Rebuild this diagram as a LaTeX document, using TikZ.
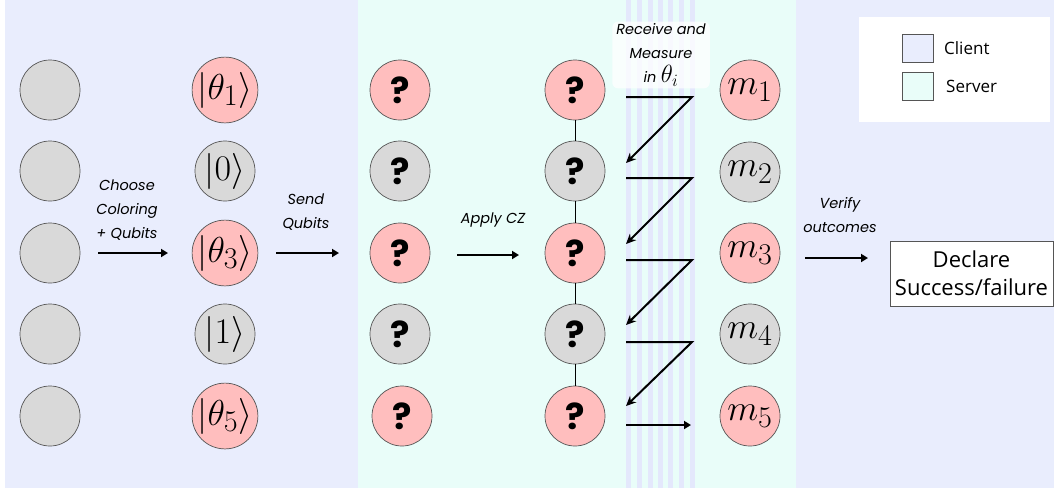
\documentclass[tikz,border=0pt]{standalone}
\usepackage{fontspec}
\usepackage{amsmath}
\usepackage{graphicx}
\setsansfont{Poppins}
\newfontfamily\boxfont{Open Sans}
\usetikzlibrary{arrows.meta}
\definecolor{clientbg}{RGB}{233,237,253}
\definecolor{serverbg}{RGB}{233,253,249}
\definecolor{stripe}{RGB}{228,232,252}
\definecolor{qpink}{RGB}{255,190,190}
\definecolor{qgray}{RGB}{217,217,217}
\definecolor{qline}{RGB}{85,85,85}
% large math inside the qubit circles
\newcommand\qmath[1]{\scalebox{1.45}{\fontsize{24.88}{25}\selectfont$#1$}}
% hidden qubit mark
\newcommand\qmark{\scalebox{1.5}{\sffamily\bfseries\fontsize{24}{24}\selectfont ?}}
\begin{document}
\begin{tikzpicture}[x=1pt,y=-1pt,
  qubit/.style={circle,draw=qline,line width=0.7pt,minimum size=60pt,inner sep=0pt},
  pinkq/.style={qubit,fill=qpink},
  grayq/.style={qubit,fill=qgray},
  lbl/.style={font=\sffamily\itshape\fontsize{14.5}{24}\selectfont,align=center},
  flow/.style={-{Triangle[length=7pt,width=8pt]},line width=2pt},
  zig/.style={-{Stealth[length=10pt,width=9pt]},line width=2pt}]
% page and the client / server regions
\fill[white] (0,0) rectangle (1054,491);
\useasboundingbox (0,0) rectangle (1054,491);
\fill[clientbg] (5,0) rectangle (1054,488);
\fill[serverbg] (358,0) rectangle (796,488);
\foreach \sx in {626,637,648,658,668,679,690}
  \fill[stripe] (\sx,0) rectangle ++(5,488);
% column 1: blank qubits
\foreach \r/\y in {1/90,2/171,3/253,4/334,5/416}
  \node[grayq] (a\r) at (50,\y) {};
% column 2: prepared states
\node[pinkq] (b1) at (225,90) {\qmath{|\theta_1\rangle}};
\node[grayq] (b2) at (225,171) {\qmath{|0\rangle}};
\node[pinkq] (b3) at (225,253) {\qmath{|\theta_3\rangle}};
\node[grayq] (b4) at (225,334) {\qmath{|1\rangle}};
\node[pinkq] (b5) at (225,416) {\qmath{|\theta_5\rangle}};
% column 3: qubits received by the server
\node[pinkq] (c1) at (400,90) {\qmark};
\node[grayq] (c2) at (400,171) {\qmark};
\node[pinkq] (c3) at (400,253) {\qmark};
\node[grayq] (c4) at (400,334) {\qmark};
\node[pinkq] (c5) at (402,416) {\qmark};
% column 4: entangled chain
\node[pinkq] (d1) at (575,90) {\qmark};
\node[grayq] (d2) at (575,171) {\qmark};
\node[pinkq] (d3) at (575,253) {\qmark};
\node[grayq] (d4) at (575,334) {\qmark};
\node[pinkq] (d5) at (575,416) {\qmark};
\foreach \i/\j in {1/2,2/3,3/4,4/5}
  \draw[line width=0.7pt] (d\i) -- (d\j);
% column 5: outcomes
\node[pinkq] (e1) at (750,90) {\qmath{m_1}};
\node[grayq] (e2) at (750,172) {\qmath{m_2}};
\node[pinkq] (e3) at (750,253) {\qmath{m_3}};
\node[grayq] (e4) at (750,334) {\qmath{m_4}};
\node[pinkq] (e5) at (750,416) {\qmath{m_5}};
% step arrows and their labels
\coordinate (s1) at (98,253);  \coordinate (t1) at (168,253);
\coordinate (s2) at (276,253); \coordinate (t2) at (339,253);
\coordinate (s3) at (457,255); \coordinate (t3) at (519,255);
\coordinate (s4) at (805,258); \coordinate (t4) at (868,258);
\draw[flow] (s1) -- (t1);
\draw[flow] (s2) -- (t2);
\draw[flow] (s3) -- (t3);
\draw[flow] (s4) -- (t4);
\node[lbl] at (127,210) {Choose\\Coloring\\+ Qubits};
\node[lbl] at (306,212) {Send\\Qubits};
\node[lbl] at (493,220) {Apply CZ};
\node[lbl] at (840,215) {Verify\\outcomes};
% measurement order
\node[lbl,fill=white,fill opacity=0.75,text opacity=1,rounded corners=6pt,
  inner xsep=4pt,inner ysep=2pt] (rm) at (661,55)
  {Receive and\\Measure\\in {\fontsize{24}{22}\selectfont$\theta_i$}};
\foreach \i/\j/\ya/\yb in {1/2/97/163,2/3/178/244,3/4/260/325,4/5/342/406}{
  \coordinate (zs\i) at (626,\ya);
  \coordinate (zk\i) at (692,\ya);
  \coordinate (zt\i) at (626,\yb);
  \draw[zig,line join=miter] (zs\i) -- (zk\i) -- (zt\i);
}
\coordinate (zs5) at (626,425); \coordinate (zt5) at (691,425);
\draw[flow] (zs5) -- (zt5);
% final decision
\node[draw=qline,fill=white,line width=0.8pt,minimum width=163pt,minimum height=65pt,
  font=\boxfont\fontsize{22}{28}\selectfont,align=center,inner sep=0pt] (dec) at (971.5,273.5) {Declare\\Success/failure};
% legend
\node[fill=white,minimum width=191pt,minimum height=105pt,inner sep=0pt] (leg) at (954.5,69.5) {};
\node[draw=qline,fill=clientbg,line width=0.8pt,minimum width=31pt,minimum height=28pt,inner sep=0pt] (lc) at (917.5,48) {};
\node[draw=qline,fill=serverbg,line width=0.8pt,minimum width=31pt,minimum height=28pt,inner sep=0pt] (ls) at (917.5,86) {};
\node[anchor=west,font=\boxfont\fontsize{17}{17}\selectfont,inner sep=0pt] at (944,48) {Client};
\node[anchor=west,font=\boxfont\fontsize{17}{17}\selectfont,inner sep=0pt] at (946,86) {Server};
\end{tikzpicture}
\end{document}
